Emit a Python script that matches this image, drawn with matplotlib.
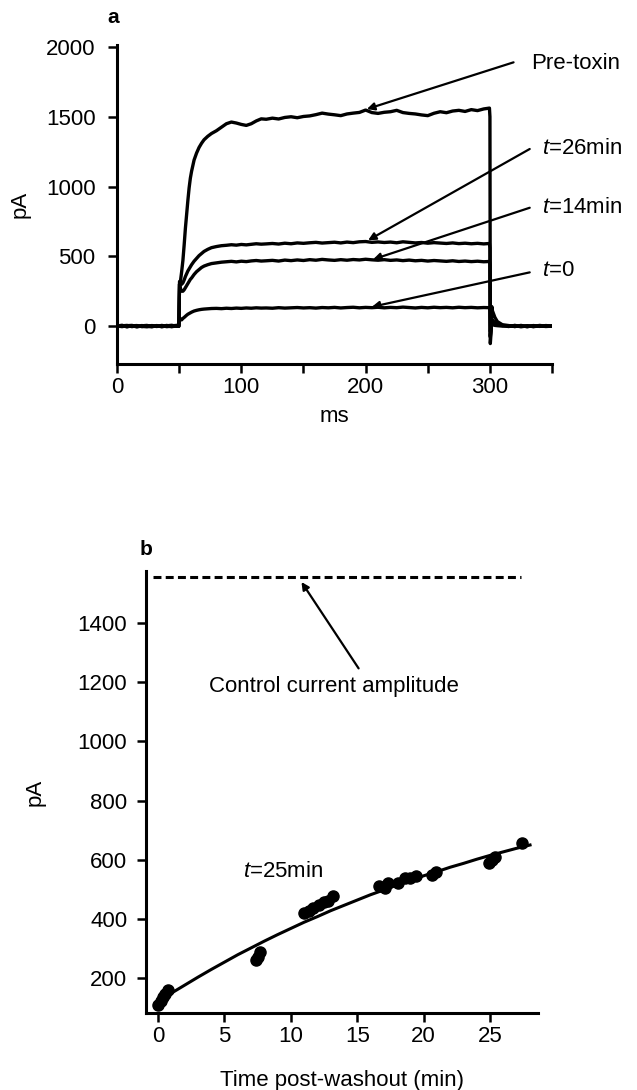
import matplotlib.pyplot as plt

plt.rcParams['font.family'] = ['Liberation Sans', 'DejaVu Sans']
plt.rcParams['mathtext.fontset'] = 'custom'
plt.rcParams['mathtext.rm'] = 'Liberation Sans'
plt.rcParams['mathtext.it'] = 'Liberation Sans:italic'

FS = 16

# ---- panel a: current traces (ms, pA) ----
trace_ms = [
    0, 4, 8, 12, 16, 20, 24, 28, 32, 36, 40, 44, 48, 49.7,
    50, 50.3, 51, 52, 53, 54, 55, 56, 57, 58, 59, 60,
    62, 64, 66, 68, 70, 73, 76,
    80, 84, 88, 92, 96, 100, 104, 108, 112, 116,
    120, 125, 130, 135, 140, 145, 150, 155, 160, 165,
    170, 175, 180, 185, 190, 195, 200, 205, 210, 215,
    220, 225, 230, 235, 240, 245, 250, 255, 260, 265,
    270, 275, 280, 285, 290, 295, 299.6,
    300, 300.3, 301, 301.5, 302, 304, 306,
    310, 315, 320, 325, 330, 335, 340, 345, 350]

pre_toxin = [
    0, 6, -4, 3, -6, 2, 5, -3, 4, -5, 2, 6, -2, 2,
    150, 300, 320, 390, 470, 580, 700, 800, 900, 990, 1060, 1110,
    1190, 1240, 1280, 1310, 1335, 1360, 1380,
    1400, 1425, 1450, 1462, 1455, 1445, 1438, 1450, 1470, 1485,
    1482, 1490, 1484, 1495, 1500, 1493, 1502, 1506, 1515, 1526,
    1519, 1514, 1508, 1520, 1526, 1531, 1548, 1530, 1524, 1532,
    1536, 1546, 1530, 1524, 1520, 1513, 1508, 1525, 1536, 1529,
    1541, 1546, 1538, 1551, 1544, 1556, 1562,
    1500, -125, -35, 140, 110, 62, 32,
    10, 4, -3, 5, -4, 3, -2, 4, 0]

t26 = [
    -3, 2, 5, -4, 3, -2, -5, 4, -1, 3, -4, 2, 5, 0,
    160, 320, 300, 300, 310, 330, 355, 375, 395, 410, 425, 440,
    465, 485, 505, 520, 535, 550, 562,
    570, 576, 579, 583, 580, 585, 582, 586, 590, 587,
    589, 592, 588, 594, 590, 596, 593, 597, 600, 595,
    598, 601, 596, 602, 598, 604, 606, 600, 603, 599,
    602, 597, 604, 600, 596, 599, 594, 598, 595, 592,
    596, 591, 594, 590, 593, 589, 592,
    560, -80, 0, 50, 42, 26, 15,
    5, -2, 4, -5, 2, -3, 5, -1, 0]

t14 = [
    2, -4, 3, 5, -3, 4, -2, -5, 3, -3, 5, -4, 1, -2,
    150, 300, 270, 250, 250, 260, 275, 290, 305, 320, 335, 345,
    370, 390, 405, 420, 430, 440, 448,
    453, 458, 461, 464, 460, 465, 462, 467, 470, 466,
    468, 471, 466, 473, 469, 474, 470, 476, 472, 478,
    474, 471, 476, 472, 477, 474, 479, 475, 472, 476,
    471, 474, 469, 473, 468, 471, 466, 470, 467, 464,
    468, 463, 466, 462, 465, 461, 463,
    440, -70, 0, 40, 34, 20, 12,
    4, -3, 5, -2, 3, -4, 2, -3, 0]

t0 = [
    -2, 3, -5, 2, 4, -4, 3, 2, -3, 5, -2, -3, 4, 0,
    30, 60, 45, 45, 55, 62, 70, 78, 85, 90, 95, 100,
    108, 113, 117, 120, 122, 124, 126,
    127, 125, 128, 126, 129, 127, 130, 128, 131, 129,
    130, 128, 132, 129, 131, 133, 130, 132, 129, 133,
    131, 134, 130, 133, 135, 131, 134, 132, 135, 131,
    134, 132, 136, 133, 130, 134, 131, 135, 132, 134,
    131, 135, 132, 134, 131, 133, 132,
    110, -40, 0, 15, 10, 5, 3,
    0, 3, -3, 2, -4, 4, -2, 3, 0]

trace_labels = ['Pre-toxin', '$t$=26min', '$t$=14min', '$t$=0']
arrow_tips = [(201, 1555), (202, 615), (206, 478), (205, 138)]
arrow_tails = [(319, 1890), (332, 1269), (332, 848), (332, 385)]
label_pos = [(333, 1883), (342, 1276), (342, 853), (342, 401)]

# ---- panel b: recovery after washout ----
wash_min = [0.0, 0.2, 0.4, 0.55, 0.75, 7.4, 7.5, 7.7,
            11.0, 11.4, 11.7, 12.1, 12.5, 12.8, 13.2,
            16.6, 17.1, 17.3, 18.1, 18.6, 19.0, 19.4, 20.6, 20.9,
            24.9, 25.1, 25.4, 27.4]
wash_pA = [108, 122, 135, 148, 160, 262, 270, 288,
           420, 428, 436, 448, 456, 462, 478,
           512, 505, 520, 520, 537, 540, 545, 550, 560,
           588, 598, 610, 658]

fit_min = [0, 1, 2, 3, 4, 5, 6, 7, 8, 9, 10, 11, 12, 13, 14,
           15, 16, 17, 18, 19, 20, 21, 22, 23, 24, 25, 26, 27, 28]
fit_pA = [120, 149, 176, 203, 229, 254, 279, 302, 325, 347, 368, 389,
          408, 428, 446, 464, 482, 498, 515, 530, 546, 560, 575, 588,
          602, 615, 627, 639, 650]

control_pA = 1555
control_span = [-0.4, 27.3]

fig = plt.figure(figsize=(6.37, 10.9), dpi=100)


def style_axes(ax):
    for side in ['top', 'right']:
        ax.spines[side].set_visible(False)
    for side in ['left', 'bottom']:
        ax.spines[side].set_linewidth(2.2)
    ax.tick_params(direction='out', length=6.5, width=1.8, labelsize=FS)


# Panel a
ax1 = fig.add_axes([0.1837, 0.666, 0.683, 0.2927])
for vals in [t0, t14, t26, pre_toxin]:
    ax1.plot(trace_ms, vals, color='black', lw=2.4, solid_joinstyle='round')
ax1.set_xlim(0, 350)
ax1.set_ylim(-272, 2014)
ax1.set_xticks([0, 50, 100, 150, 200, 250, 300, 350])
ax1.set_xticklabels(['0', '', '100', '', '200', '', '300', ''])
ax1.set_yticks([0, 500, 1000, 1500, 2000])
style_axes(ax1)
ax1.tick_params(axis='x', pad=3)
ax1.tick_params(axis='y', pad=9)
ax1.set_ylabel('pA', fontsize=FS)
ax1.yaxis.set_label_coords(-0.198, 0.5)
ax1.set_xlabel('ms', fontsize=FS)
ax1.xaxis.set_label_coords(0.5, -0.13)

for lab, tip, tail, pos in zip(trace_labels, arrow_tips, arrow_tails, label_pos):
    ax1.annotate('', xy=tip, xytext=tail, annotation_clip=False,
                 arrowprops=dict(arrowstyle='-|>', color='black', lw=1.6,
                                 mutation_scale=11, shrinkA=0, shrinkB=0))
    ax1.text(pos[0], pos[1], lab, fontsize=FS, ha='left', va='center',
             clip_on=False)

fig.text(0.177, 0.9835, 'a', fontsize=15, fontweight='bold',
         ha='center', va='center')

# Panel b
ax2 = fig.add_axes([0.2292, 0.0706, 0.6154, 0.4055])
ax2.plot(control_span, [control_pA, control_pA], color='black', lw=2.2,
         dashes=(2.6, 1.4))
ax2.plot(fit_min, fit_pA, color='black', lw=2.2)
ax2.plot(wash_min, wash_pA, 'o', color='black', ms=8)
ax2.set_xlim(-0.9, 28.6)
ax2.set_ylim(82, 1576)
ax2.set_xticks([0, 5, 10, 15, 20, 25])
ax2.set_yticks([200, 400, 600, 800, 1000, 1200, 1400])
style_axes(ax2)
ax2.tick_params(axis='x', pad=3)
ax2.tick_params(axis='y', pad=7)
ax2.set_ylabel('pA', fontsize=FS)
ax2.yaxis.set_label_coords(-0.255, 0.5)
ax2.set_xlabel('Time post-washout (min)', fontsize=FS)
ax2.xaxis.set_label_coords(0.5, -0.128)

ax2.annotate('', xy=(10.8, 1539), xytext=(15.1, 1247),
             arrowprops=dict(arrowstyle='-|>', color='black', lw=1.6,
                             mutation_scale=11, shrinkA=0, shrinkB=0))
ax2.text(3.86, 1185, 'Control current amplitude', fontsize=FS,
         ha='left', va='center')
ax2.text(6.4, 559, '$t$=25min', fontsize=FS, ha='left', va='center')

fig.text(0.229, 0.4963, 'b', fontsize=15, fontweight='bold',
         ha='center', va='center')

fig.savefig('out.png', dpi=100)
